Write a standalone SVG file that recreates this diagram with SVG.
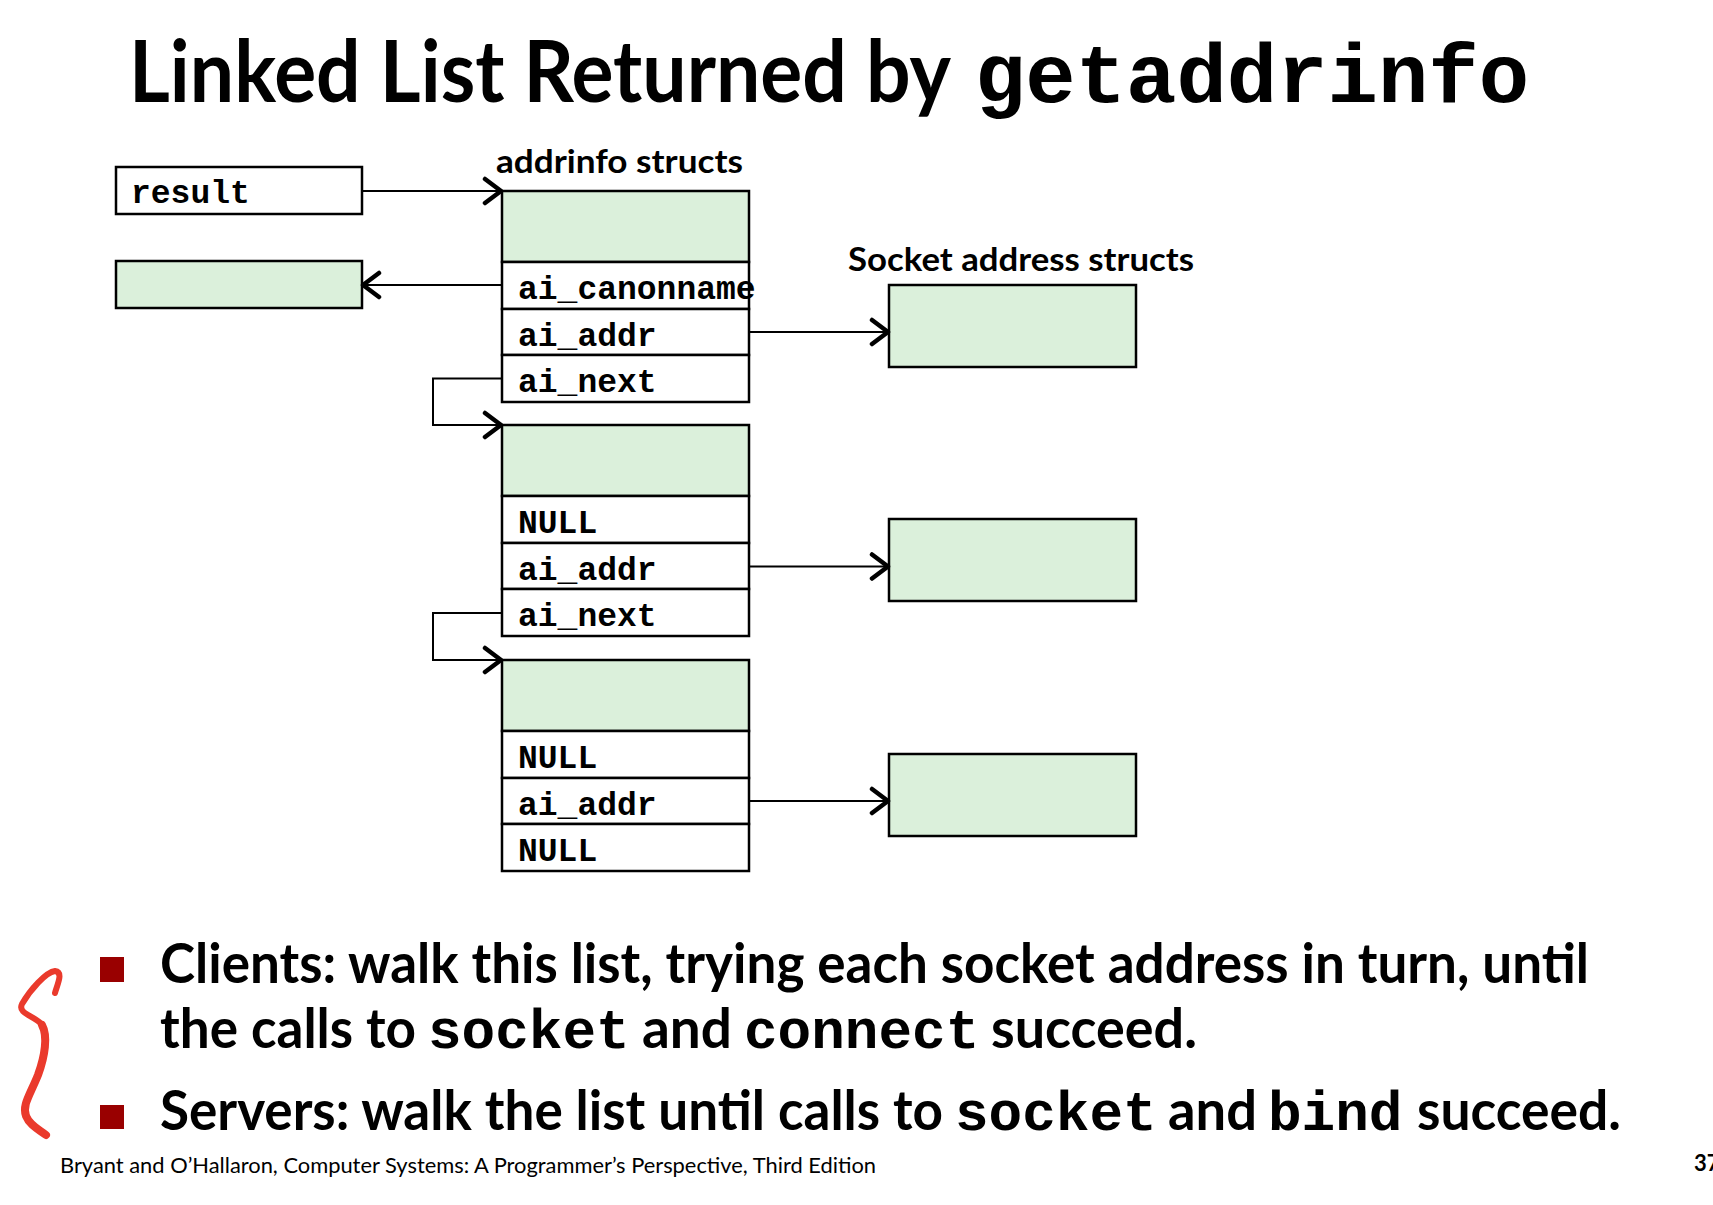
<svg xmlns="http://www.w3.org/2000/svg" width="1713" height="1205" viewBox="0 0 1713 1205">
<defs>
<style>
.box{fill:#fff;stroke:#000;stroke-width:2.5}
.g{fill:#dbf0db;stroke:#000;stroke-width:2.5}
.mono{font-family:"Liberation Mono","DejaVu Sans Mono",monospace;font-weight:bold;font-size:33px;fill:#000}
.sans{font-family:Lato,"Liberation Sans",sans-serif;font-weight:bold;fill:#000}
.conn{fill:none;stroke:#000;stroke-width:2}
.big{font-size:55px}
.bmono{font-family:"Liberation Mono","DejaVu Sans Mono",monospace;font-weight:bold;font-size:56px}
</style>
<marker id="ah" markerUnits="userSpaceOnUse" markerWidth="24" markerHeight="30" viewBox="-3 -3 24 30" refX="18" refY="12" orient="auto">
<path d="M2,0 L18,12 L2,24" fill="none" stroke="#000" stroke-width="4.5" stroke-linecap="round" stroke-linejoin="round"/>
</marker>
</defs>
<rect width="1713" height="1205" fill="#fff"/>

<g id="title">
<text x="129" y="102" class="sans" font-size="86" textLength="822" lengthAdjust="spacingAndGlyphs">Linked List Returned by</text>
<text x="975" y="102" font-family="'Liberation Mono','DejaVu Sans Mono',monospace" font-weight="bold" font-size="84" textLength="554" lengthAdjust="spacingAndGlyphs">getaddrinfo</text>
</g>

<g id="labels">
<text x="496" y="173" class="sans" font-size="33" textLength="247" lengthAdjust="spacingAndGlyphs">addrinfo structs</text>
<text x="848" y="271" class="sans" font-size="33" textLength="346" lengthAdjust="spacingAndGlyphs">Socket address structs</text>
</g>

<g id="result">
<rect class="box" x="116" y="167" width="246" height="47"/>
<text class="mono" x="131" y="203">result</text>
</g>

<g id="canonname">
<rect class="g" x="116" y="261" width="246" height="47"/>
</g>

<g id="struct1">
<rect class="g" x="502" y="191" width="247" height="71"/>
<rect class="box" x="502" y="262" width="247" height="47"/>
<rect class="box" x="502" y="309" width="247" height="46"/>
<rect class="box" x="502" y="355" width="247" height="47"/>
<text class="mono" x="518" y="299">ai_canonname</text>
<text class="mono" x="518" y="346">ai_addr</text>
<text class="mono" x="518" y="392">ai_next</text>
</g>

<g id="struct2">
<rect class="g" x="502" y="425" width="247" height="71"/>
<rect class="box" x="502" y="496" width="247" height="47"/>
<rect class="box" x="502" y="543" width="247" height="46"/>
<rect class="box" x="502" y="589" width="247" height="47"/>
<text class="mono" x="518" y="533">NULL</text>
<text class="mono" x="518" y="580">ai_addr</text>
<text class="mono" x="518" y="626">ai_next</text>
</g>

<g id="struct3">
<rect class="g" x="502" y="660" width="247" height="71"/>
<rect class="box" x="502" y="731" width="247" height="47"/>
<rect class="box" x="502" y="778" width="247" height="46"/>
<rect class="box" x="502" y="824" width="247" height="47"/>
<text class="mono" x="518" y="768">NULL</text>
<text class="mono" x="518" y="815">ai_addr</text>
<text class="mono" x="518" y="861">NULL</text>
</g>

<g id="sock1"><rect class="g" x="889" y="285" width="247" height="82"/></g>
<g id="sock2"><rect class="g" x="889" y="519" width="247" height="82"/></g>
<g id="sock3"><rect class="g" x="889" y="754" width="247" height="82"/></g>

<g id="connectors">
<path class="conn" d="M362,191 H501" marker-end="url(#ah)"/>
<path class="conn" d="M502,285 H363" marker-end="url(#ah)"/>
<path class="conn" d="M749,332 H888" marker-end="url(#ah)"/>
<path class="conn" d="M502,378.5 H433 V425 H501" marker-end="url(#ah)"/>
<path class="conn" d="M749,566.5 H888" marker-end="url(#ah)"/>
<path class="conn" d="M502,613 H433 V660 H501" marker-end="url(#ah)"/>
<path class="conn" d="M749,801 H888" marker-end="url(#ah)"/>
</g>

<g id="bullets">
<rect x="100" y="957" width="24" height="25" fill="#990000"/>
<rect x="100" y="1105" width="24" height="24" fill="#990000"/>
<text class="sans big" x="160" y="983" textLength="1429" lengthAdjust="spacingAndGlyphs">Clients: walk this list, trying each socket address in turn, until</text>
<text x="160" y="1048" class="sans big" textLength="256" lengthAdjust="spacingAndGlyphs">the calls to</text>
<text x="428" y="1048" class="bmono">socket</text>
<text x="642" y="1048" class="sans big" textLength="90" lengthAdjust="spacingAndGlyphs">and</text>
<text x="744" y="1048" class="bmono">connect</text>
<text x="991" y="1048" class="sans big" textLength="206" lengthAdjust="spacingAndGlyphs">succeed.</text>
<text x="160" y="1130" class="sans big" textLength="783" lengthAdjust="spacingAndGlyphs">Servers: walk the list until calls to</text>
<text x="955" y="1130" class="bmono">socket</text>
<text x="1168" y="1130" class="sans big" textLength="89" lengthAdjust="spacingAndGlyphs">and</text>
<text x="1268" y="1130" class="bmono">bind</text>
<text x="1417" y="1130" class="sans big" textLength="204" lengthAdjust="spacingAndGlyphs">succeed.</text>
</g>

<g id="annotation" fill="none" stroke="#ea3a2c" stroke-linecap="round" stroke-linejoin="round">
<path d="M55,993 C57,985 64,972 55,971 C46,972 30,990 22,1004 C17,1014 36,1016 42,1025 C48,1036 45,1056 38,1075" stroke-width="6"/>
<path d="M42,1025 C48,1036 45,1056 38,1075 C30,1095 22,1105 26,1116 C30,1126 40,1130 46,1135" stroke-width="8"/>
</g>

<g id="footer">
<text x="60" y="1173" font-family="Lato,'Liberation Sans',sans-serif" font-size="22" fill="#000" textLength="816" lengthAdjust="spacingAndGlyphs">Bryant and O’Hallaron, Computer Systems: A Programmer’s Perspective, Third Edition</text>
<text x="1694" y="1171" class="sans" font-size="22">37</text>
</g>
</svg>
